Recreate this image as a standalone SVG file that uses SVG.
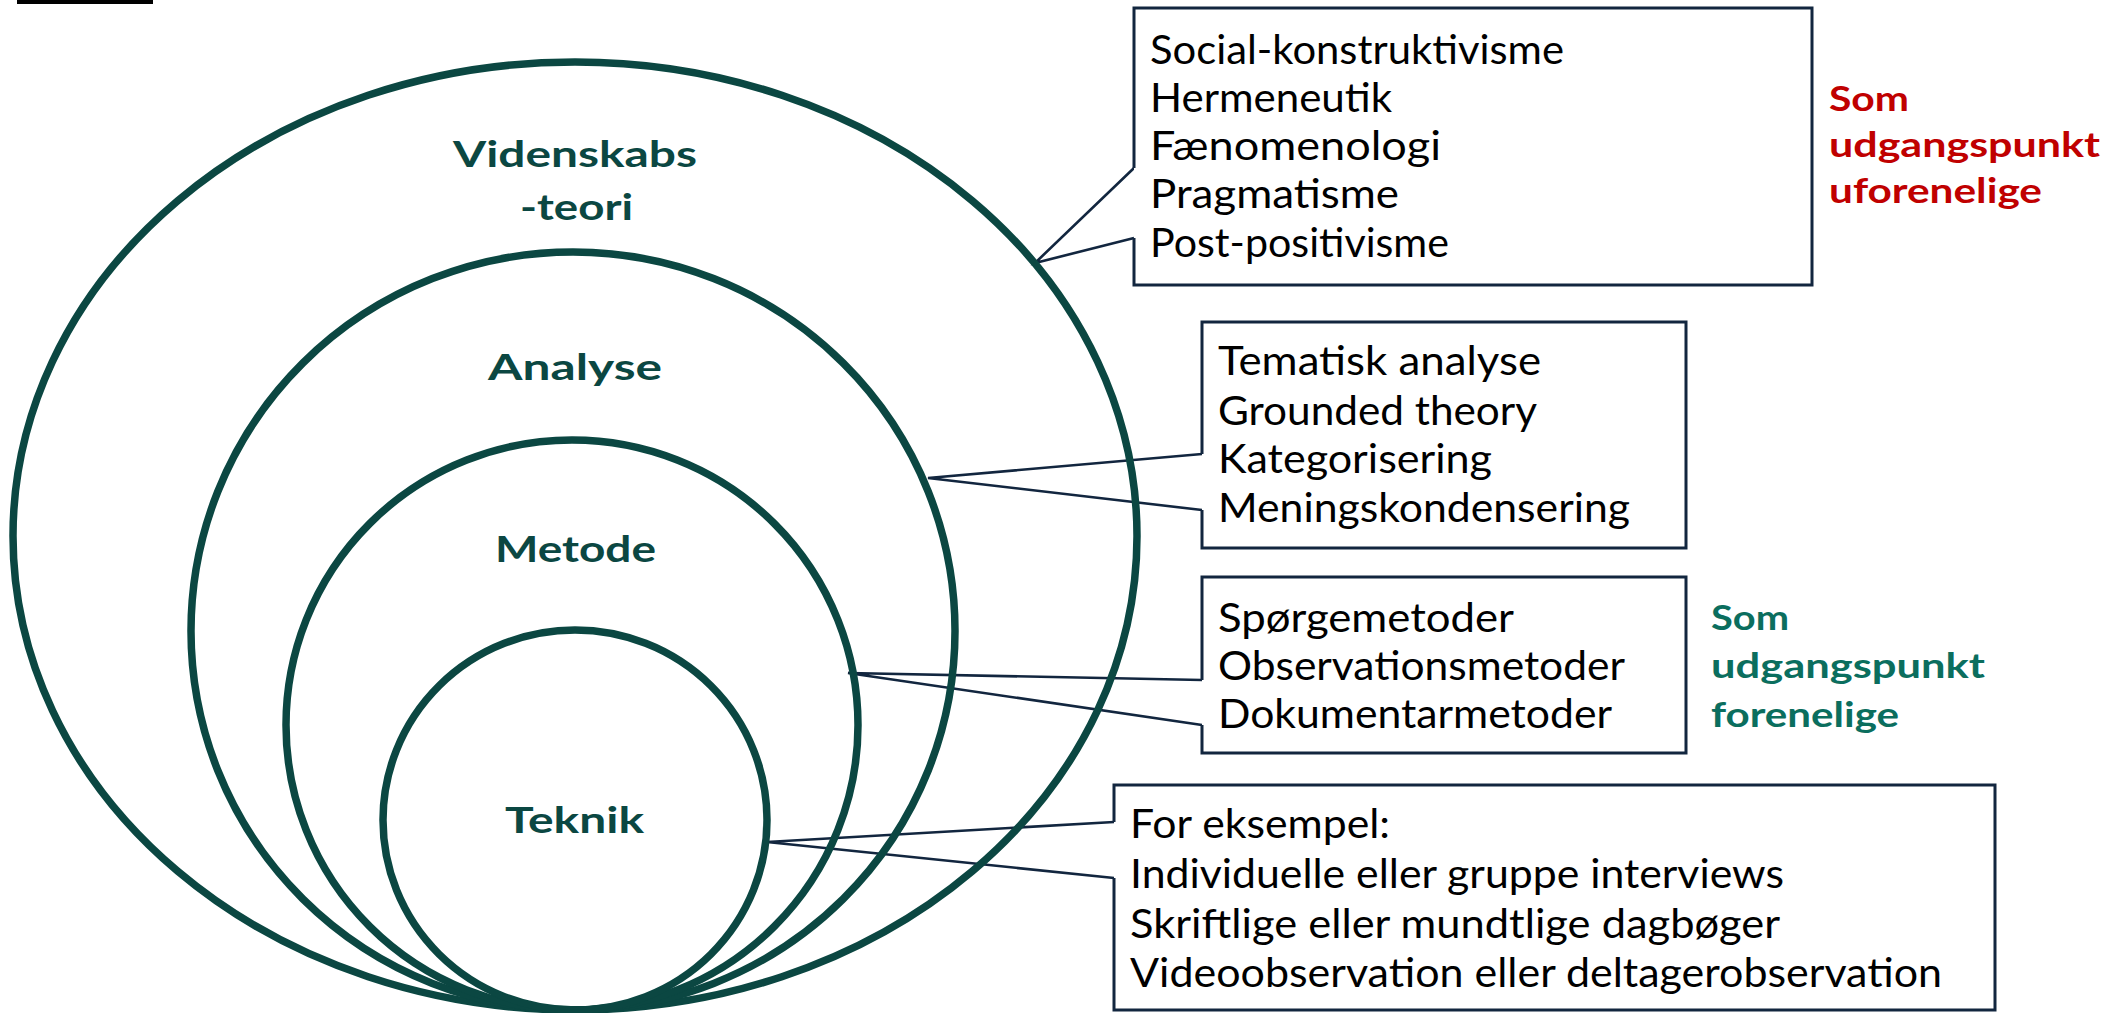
<svg xmlns="http://www.w3.org/2000/svg" width="2120" height="1013" viewBox="0 0 2120 1013">
  <style>
    .ring { fill: none; stroke: #0b4742; stroke-width: 7.5; }
    .ring-label { font-family: Lato, "Liberation Sans", sans-serif; font-weight: 700; font-size: 36px; fill: #0b4742; }
    .box { fill: #ffffff; stroke: #12263f; stroke-width: 3; stroke-linejoin: miter; }
    .item { font-family: Lato, "Liberation Sans", sans-serif; font-weight: 400; font-size: 40px; fill: #000000; }
    .wire { fill: none; stroke: #12263f; stroke-width: 2.6; stroke-linejoin: miter; }
    .note { font-family: Lato, "Liberation Sans", sans-serif; font-weight: 700; font-size: 35px; }
    .note-red { fill: #c00000; }
    .note-green { fill: #0b6e5e; }
  </style>

  <rect id="header-bar" x="17" y="0" width="136" height="4" fill="#000000"/>

  <!-- connectors: callout wedges from the rings to the boxes -->
  <g id="connectors">
    <path class="wire" d="M1134,168 L1035,263 L1134,238"/>
    <path class="wire" d="M1202,454 L928,478 L1202,510"/>
    <path class="wire" d="M1202,680 L848,673 L1202,725"/>
    <path class="wire" d="M1114,822 L767,842 L1114,878"/>
  </g>

  <!-- nested rings, all touching at the bottom -->
  <g id="ring-videnskabsteori">
    <ellipse class="ring" cx="575" cy="536" rx="562" ry="474"/>
    <text class="ring-label" x="453" y="167" textLength="244" lengthAdjust="spacingAndGlyphs">Videnskabs</text>
    <text class="ring-label" x="520" y="220" textLength="113" lengthAdjust="spacingAndGlyphs">-teori</text>
  </g>
  <g id="ring-analyse">
    <ellipse class="ring" cx="573" cy="631" rx="382" ry="379"/>
    <text class="ring-label" x="488" y="380" textLength="174" lengthAdjust="spacingAndGlyphs">Analyse</text>
  </g>
  <g id="ring-metode">
    <ellipse class="ring" cx="572" cy="725" rx="286" ry="285"/>
    <text class="ring-label" x="495" y="562" textLength="161" lengthAdjust="spacingAndGlyphs">Metode</text>
  </g>
  <g id="ring-teknik">
    <ellipse class="ring" cx="575" cy="820" rx="192" ry="190"/>
    <text class="ring-label" x="505" y="833" textLength="139" lengthAdjust="spacingAndGlyphs">Teknik</text>
  </g>

  <!-- callout boxes (left edge left open where the wedge attaches) -->
  <g id="box-videnskabsteori">
    <path class="box" d="M1134,168 L1134,8 L1812,8 L1812,285 L1134,285 L1134,238"/>
    <text class="item" x="1150" y="64" textLength="414" lengthAdjust="spacingAndGlyphs">Social-konstruktivisme</text>
    <text class="item" x="1150" y="112" textLength="242" lengthAdjust="spacingAndGlyphs">Hermeneutik</text>
    <text class="item" x="1150" y="160" textLength="291" lengthAdjust="spacingAndGlyphs">Fænomenologi</text>
    <text class="item" x="1150" y="208" textLength="249" lengthAdjust="spacingAndGlyphs">Pragmatisme</text>
    <text class="item" x="1150" y="257" textLength="299" lengthAdjust="spacingAndGlyphs">Post-positivisme</text>
  </g>
  <g id="box-analyse">
    <path class="box" d="M1202,454 L1202,322 L1686,322 L1686,548 L1202,548 L1202,510"/>
    <text class="item" x="1218" y="375" textLength="323" lengthAdjust="spacingAndGlyphs">Tematisk analyse</text>
    <text class="item" x="1218" y="425" textLength="319" lengthAdjust="spacingAndGlyphs">Grounded theory</text>
    <text class="item" x="1218" y="473" textLength="274" lengthAdjust="spacingAndGlyphs">Kategorisering</text>
    <text class="item" x="1218" y="522" textLength="412" lengthAdjust="spacingAndGlyphs">Meningskondensering</text>
  </g>
  <g id="box-metode">
    <path class="box" d="M1202,680 L1202,577 L1686,577 L1686,753 L1202,753 L1202,725"/>
    <text class="item" x="1218" y="632" textLength="296" lengthAdjust="spacingAndGlyphs">Spørgemetoder</text>
    <text class="item" x="1218" y="680" textLength="407" lengthAdjust="spacingAndGlyphs">Observationsmetoder</text>
    <text class="item" x="1218" y="728" textLength="394" lengthAdjust="spacingAndGlyphs">Dokumentarmetoder</text>
  </g>
  <g id="box-teknik">
    <path class="box" d="M1114,822 L1114,785 L1995,785 L1995,1010 L1114,1010 L1114,878"/>
    <text class="item" x="1130" y="838" textLength="260" lengthAdjust="spacingAndGlyphs">For eksempel:</text>
    <text class="item" x="1130" y="888" textLength="654" lengthAdjust="spacingAndGlyphs">Individuelle eller gruppe interviews</text>
    <text class="item" x="1130" y="938" textLength="650" lengthAdjust="spacingAndGlyphs">Skriftlige eller mundtlige dagbøger</text>
    <text class="item" x="1130" y="987" textLength="812" lengthAdjust="spacingAndGlyphs">Videoobservation eller deltagerobservation</text>
  </g>

  <!-- side notes -->
  <g id="note-uforenelige" class="note note-red">
    <text x="1829" y="111" textLength="80" lengthAdjust="spacingAndGlyphs">Som</text>
    <text x="1829" y="157" textLength="271" lengthAdjust="spacingAndGlyphs">udgangspunkt</text>
    <text x="1829" y="203" textLength="213" lengthAdjust="spacingAndGlyphs">uforenelige</text>
  </g>
  <g id="note-forenelige" class="note note-green">
    <text x="1711" y="630" textLength="78" lengthAdjust="spacingAndGlyphs">Som</text>
    <text x="1711" y="678" textLength="274" lengthAdjust="spacingAndGlyphs">udgangspunkt</text>
    <text x="1711" y="727" textLength="188" lengthAdjust="spacingAndGlyphs">forenelige</text>
  </g>
</svg>
